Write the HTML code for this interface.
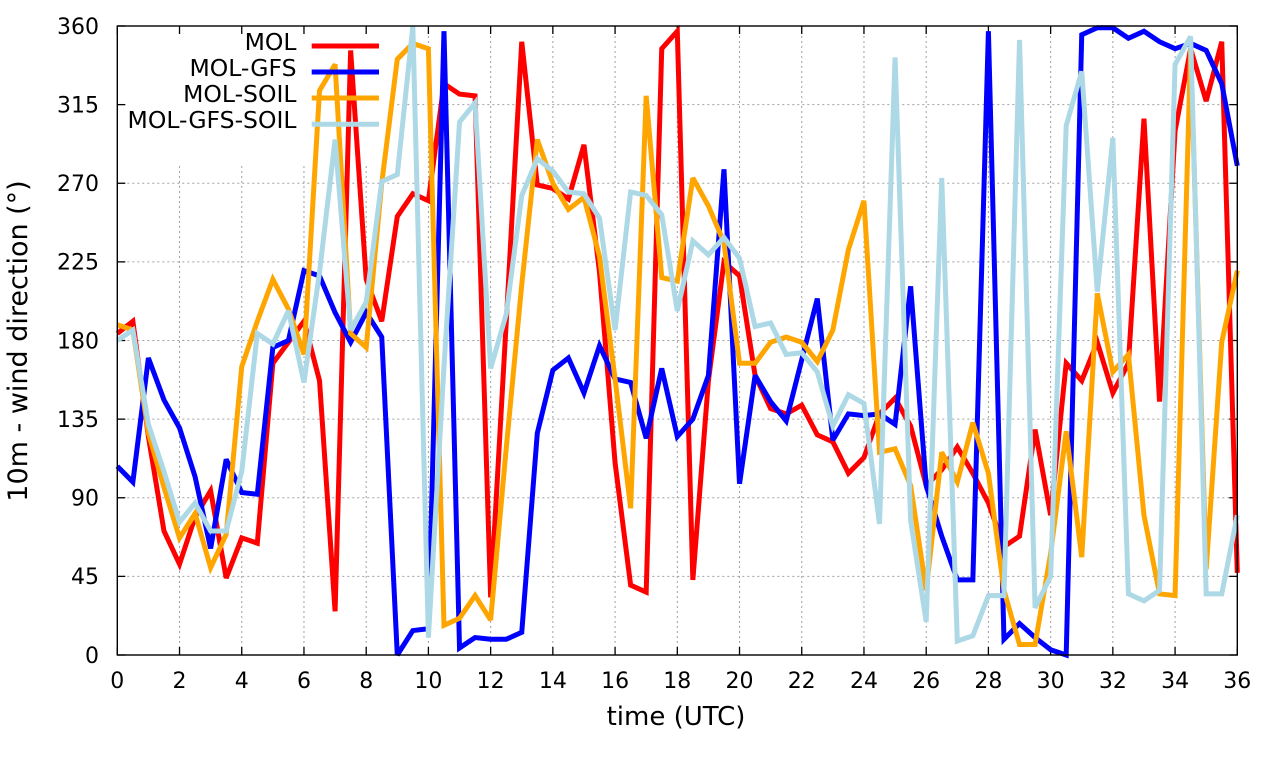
<!DOCTYPE html>
<html>
<head>
<meta charset="utf-8">
<style>
  html, body { margin: 0; padding: 0; background: #ffffff; }
  body { width: 1280px; height: 760px; overflow: hidden; }
  svg { display: block; }
  .tick { font-family: "DejaVu Sans", "Liberation Sans", sans-serif; font-size: 22px; fill: #000; }
  .leg { font-family: "DejaVu Sans", "Liberation Sans", sans-serif; font-size: 23.5px; fill: #000; }
  .lab { font-family: "DejaVu Sans", "Liberation Sans", sans-serif; font-size: 26px; fill: #000; }
</style>
</head>
<body>
<svg id="chart" width="1280" height="760" viewBox="0 0 1280 760" xmlns="http://www.w3.org/2000/svg">
  <rect x="0" y="0" width="1280" height="760" fill="#ffffff"/>
  <g id="grid" stroke="#a0a0a0" stroke-width="1" stroke-dasharray="2,3" fill="none"></g>
  <!-- key area hides grid -->
  <rect x="118.5" y="26.8" width="278" height="138" fill="#ffffff"/>
  <g id="ticks" stroke="#000" stroke-width="1.3" fill="none"></g>
  <g id="series" fill="none" stroke-width="5" stroke-linejoin="miter" stroke-miterlimit="3"></g>
  <rect x="117.3" y="26" width="1120" height="629" fill="none" stroke="#000" stroke-width="1.4"/>

  <!-- y tick labels -->
  <g class="tick" text-anchor="end">
    <text x="99" y="662.8">0</text>
    <text x="99" y="584.2">45</text>
    <text x="99" y="505.6">90</text>
    <text x="99" y="426.9">135</text>
    <text x="99" y="348.3">180</text>
    <text x="99" y="269.7">225</text>
    <text x="99" y="191.1">270</text>
    <text x="99" y="112.4">315</text>
    <text x="99" y="33.8">360</text>
  </g>
  <!-- x tick labels -->
  <g class="tick" text-anchor="middle">
    <text x="117.3" y="688">0</text>
    <text x="179.5" y="688">2</text>
    <text x="241.7" y="688">4</text>
    <text x="303.97" y="688">6</text>
    <text x="366.2" y="688">8</text>
    <text x="428.4" y="688">10</text>
    <text x="490.6" y="688">12</text>
    <text x="552.9" y="688">14</text>
    <text x="615.1" y="688">16</text>
    <text x="677.3" y="688">18</text>
    <text x="739.5" y="688">20</text>
    <text x="801.7" y="688">22</text>
    <text x="864.0" y="688">24</text>
    <text x="926.2" y="688">26</text>
    <text x="988.4" y="688">28</text>
    <text x="1050.6" y="688">30</text>
    <text x="1112.9" y="688">32</text>
    <text x="1175.1" y="688">34</text>
    <text x="1237.3" y="688">36</text>
  </g>

  <!-- axis labels -->
  <text class="lab" x="676" y="725" text-anchor="middle">time (UTC)</text>
  <text class="lab" x="0" y="0" text-anchor="middle" style="font-size:27px" transform="translate(27,341) rotate(-90)">10m - wind direction (°)</text>

  <!-- legend -->
  <g class="leg" text-anchor="end">
    <text x="296.5" y="49.8">MOL</text>
    <text x="296.5" y="75.8">MOL-GFS</text>
    <text x="296.5" y="101.8">MOL-SOIL</text>
    <text x="296.5" y="127.8">MOL-GFS-SOIL</text>
  </g>
  <g stroke-width="5">
    <line x1="311.7" y1="46" x2="379" y2="46" stroke="#ff0000"/>
    <line x1="311.7" y1="72" x2="379" y2="72" stroke="#0000ff"/>
    <line x1="311.7" y1="98" x2="379" y2="98" stroke="#ffa500"/>
    <line x1="311.7" y1="124.3" x2="379" y2="124.3" stroke="#add8e6"/>
  </g>
</svg>
<script>
(function(){
  var NS = "http://www.w3.org/2000/svg";
  var X = function(t){ return 117.3 + t*31.111; };
  var Y = function(v){ return 655 - v*1.74722; };
  var grid = document.getElementById("grid");
  var ticks = document.getElementById("ticks");
  function line(g, x1,y1,x2,y2){
    var l = document.createElementNS(NS,"line");
    l.setAttribute("x1",x1); l.setAttribute("y1",y1);
    l.setAttribute("x2",x2); l.setAttribute("y2",y2);
    g.appendChild(l);
  }
  for (var v=45; v<360; v+=45){
    var y = Y(v);
    line(grid, 117.3, y, 1237.3, y);
  }
  for (var v=0; v<=360; v+=45){
    var y = Y(v);
    line(ticks, 117.3, y, 125.3, y);
    line(ticks, 1229.3, y, 1237.3, y);
  }
  for (var t=2; t<36; t+=2){
    var x = X(t);
    line(grid, x, 26, x, 655);
  }
  for (var t=0; t<=36; t+=2){
    var x = X(t);
    line(ticks, x, 655, x, 647);
    line(ticks, x, 26, x, 34);
  }

  var data = {
    "#ff0000": [184,191,125,71,52,79,94,44,67,64,167,179,191,157,25,346,215,191,251,264,
                260,327,321,320,33,190,351,269,267,261,292,219,110,40,36,347,357,43,157,225,
                217,160,141,138,143,126,122,104,113,138,147,131,97,106,119,104,87,62,68,129,
                80,167,157,179,150,167,307,145,300,347,317,351,47],
    "#0000ff": [108,99,170,146,130,102,61,112,93,92,176,180,220,217,196,179,196,182,0,14,
                15,357,4,10,9,9,13,127,163,170,150,177,158,156,124,164,125,135,160,278,
                98,160,145,134,169,204,123,138,137,138,132,211,97,68,43,43,357,9,18,10,
                3,0,355,359,359,353,357,351,347,350,346,327,280],
    "#ffa500": [189,186,127,96,67,81,50,69,165,191,215,198,172,323,338,184,176,270,341,350,
                347,17,21,34,20,118,212,295,270,255,262,228,158,84,320,216,214,273,257,236,
                167,167,179,182,179,168,186,232,260,116,118,97,37,116,99,133,104,37,6,6,
                58,128,56,207,162,172,80,35,34,347,49,179,220],
    "#add8e6": [180,186,132,105,76,87,71,71,105,184,178,197,156,219,295,186,202,271,275,360,
                10,165,305,316,164,195,263,284,277,265,264,250,186,265,263,252,197,237,229,239,
                227,188,190,172,173,162,131,149,144,75,342,77,19,273,8,11,34,34,352,27,
                45,303,334,208,296,35,31,37,338,354,35,35,80]
  };
  var series = document.getElementById("series");
  ["#ff0000","#0000ff","#ffa500","#add8e6"].forEach(function(c){
    var arr = data[c];
    var pts = [];
    for (var i=0;i<arr.length;i++){
      pts.push(X(i*0.5).toFixed(2)+","+Y(arr[i]).toFixed(2));
    }
    var p = document.createElementNS(NS,"polyline");
    p.setAttribute("points", pts.join(" "));
    p.setAttribute("stroke", c);
    series.appendChild(p);
  });
})();
</script>
</body>
</html>
